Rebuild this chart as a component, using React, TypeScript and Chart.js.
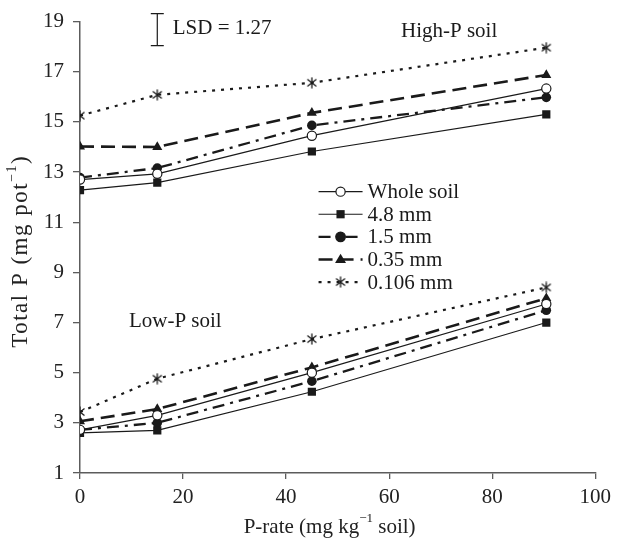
import React, { useEffect, useRef } from 'react';
import { Chart, registerables } from 'chart.js';

Chart.register(...registerables);

// ---------- data ----------
const pRates = [0, 15, 45, 90.5];
const seriesNames = ['Whole soil', '4.8 mm', '1.5 mm', '0.35 mm', '0.106 mm'];

const highWhole = [12.7, 12.93, 14.45, 16.33];
const highMm48 = [12.28, 12.58, 13.82, 15.3];
const highMm15 = [12.78, 13.16, 14.86, 15.98];
const highMm035 = [14.02, 14.0, 15.36, 16.87];
const highMm0106 = [15.25, 16.08, 16.56, 17.96];

const lowWhole = [2.72, 3.3, 5.0, 7.74];
const lowMm48 = [2.6, 2.7, 4.24, 7.0];
const lowMm15 = [2.72, 3.0, 4.66, 7.49];
const lowMm035 = [3.06, 3.55, 5.21, 7.97];
const lowMm0106 = [3.43, 4.76, 6.34, 8.4];

const xTicks = [0, 20, 40, 60, 80, 100];
const yTicks = [1, 3, 5, 7, 9, 11, 13, 15, 17, 19];

const lsdValue = 1.27;
const lsdCenter = 18.68;
const lsdRate = 15;

const highLabel = 'High-P soil';
const lowLabel = 'Low-P soil';
const xTitle = ['P-rate (mg kg', '\u22121', ' soil)'];
const yTitle = ['Total P (mg pot', '\u22121', ')'];

// ---------- styling ----------
const FONT = "'Liberation Serif', 'Times New Roman', serif";
const INK = '#1a1a1a';
const AXIS = '#5c5c5c';

function makeStarCanvas(): HTMLCanvasElement {
  const c = document.createElement('canvas');
  c.width = 12;
  c.height = 12;
  const g = c.getContext('2d')!;
  g.strokeStyle = INK;
  g.lineWidth = 1.3;
  g.beginPath();
  g.moveTo(1.5, 2.5); g.lineTo(10.5, 9.5);
  g.moveTo(10.5, 2.5); g.lineTo(1.5, 9.5);
  g.moveTo(6, 0.5); g.lineTo(6, 11.5);
  g.stroke();
  return c;
}

type Sty = { point: any; fill: string; radius: number; width: number; dash: number[] };

function drawMarker(ctx: CanvasRenderingContext2D, s: Sty, x: number, y: number) {
  ctx.save();
  ctx.setLineDash([]);
  ctx.fillStyle = s.fill;
  ctx.strokeStyle = INK;
  ctx.lineWidth = 1.2;
  if (s.point === 'circle') {
    ctx.beginPath();
    ctx.arc(x, y, s.radius, 0, Math.PI * 2);
    ctx.fill();
    ctx.stroke();
  } else if (s.point === 'rect') {
    const h = s.radius * Math.SQRT1_2;
    ctx.fillRect(x - h, y - h, 2 * h, 2 * h);
  } else if (s.point === 'triangle') {
    const r = s.radius;
    ctx.beginPath();
    ctx.moveTo(x, y - r);
    ctx.lineTo(x + r * 0.95, y + r * 0.6);
    ctx.lineTo(x - r * 0.95, y + r * 0.6);
    ctx.closePath();
    ctx.fill();
  } else {
    ctx.drawImage(s.point, x - 6, y - 6);
  }
  ctx.restore();
}

function drawRich(ctx: CanvasRenderingContext2D, parts: string[], cx: number, cy: number, size: number, spacing: number) {
  const main = `${size}px ${FONT}`;
  const sup = `${Math.round(size * 0.62)}px ${FONT}`;
  (ctx as any).letterSpacing = `${spacing}px`;
  const widths = parts.map((p, i) => {
    ctx.font = i === 1 ? sup : main;
    return ctx.measureText(p).width;
  });
  const total = widths.reduce((a, b) => a + b, 0);
  let x = cx - total / 2;
  parts.forEach((p, i) => {
    ctx.font = i === 1 ? sup : main;
    ctx.fillText(p, x, i === 1 ? cy - size * 0.38 : cy);
    x += widths[i];
  });
  (ctx as any).letterSpacing = '0px';
}

export default function App() {
  const ref = useRef<HTMLCanvasElement>(null);

  useEffect(() => {
    const star = makeStarCanvas();
    const styles: Sty[] = [
      { point: 'circle', fill: '#ffffff', radius: 4.6, width: 1.2, dash: [] },
      { point: 'rect', fill: INK, radius: 5.8, width: 1.2, dash: [] },
      { point: 'circle', fill: INK, radius: 4.8, width: 2.3, dash: [12, 6, 3, 6] },
      { point: 'triangle', fill: INK, radius: 5.8, width: 2.6, dash: [14, 7] },
      { point: star, fill: INK, radius: 6, width: 2.2, dash: [3, 6] },
    ];
    const highs = [highWhole, highMm48, highMm15, highMm035, highMm0106];
    const lows = [lowWhole, lowMm48, lowMm15, lowMm035, lowMm0106];

    const mk = (vals: number[], i: number, group: string) => ({
      label: `${seriesNames[i]} (${group})`,
      data: pRates.map((x, k) => ({ x, y: vals[k] })),
      borderColor: INK,
      borderWidth: styles[i].width,
      borderDash: styles[i].dash,
      pointStyle: styles[i].point,
      pointRadius: styles[i].radius,
      pointBackgroundColor: styles[i].fill,
      pointBorderColor: INK,
      pointBorderWidth: i === 0 ? 1.2 : 0,
      tension: 0,
      fill: false,
      showLine: true,
    });

    const datasets: any[] = [];
    highs.forEach((v, i) => datasets.push(mk(v, i, 'High-P')));
    lows.forEach((v, i) => datasets.push(mk(v, i, 'Low-P')));

    const decor = {
      id: 'decor',
      afterDraw(chart: any) {
        const { ctx, chartArea } = chart;
        const xs = chart.scales.x;
        const ys = chart.scales.y;
        ctx.save();
        ctx.fillStyle = INK;
        ctx.strokeStyle = INK;
        ctx.textBaseline = 'middle';
        ctx.textAlign = 'left';

        // group labels
        ctx.font = `21px ${FONT}`;
        ctx.fillText(highLabel, xs.getPixelForValue(62.3), ys.getPixelForValue(18.6));
        ctx.fillText(lowLabel, xs.getPixelForValue(9.5), ys.getPixelForValue(7.05));

        // LSD bar
        const bx = xs.getPixelForValue(lsdRate);
        const bt = ys.getPixelForValue(lsdCenter + lsdValue / 2);
        const bb = ys.getPixelForValue(lsdCenter - lsdValue / 2);
        ctx.lineWidth = 1.2;
        ctx.setLineDash([]);
        ctx.beginPath();
        ctx.moveTo(bx, bt); ctx.lineTo(bx, bb);
        ctx.moveTo(bx - 6.5, bt); ctx.lineTo(bx + 6.5, bt);
        ctx.moveTo(bx - 6.5, bb); ctx.lineTo(bx + 6.5, bb);
        ctx.stroke();
        ctx.fillText(`LSD = ${lsdValue.toFixed(2)}`, bx + 15.5, (bt + bb) / 2 - 1);

        // legend
        const lx = xs.getPixelForValue(46.3);
        const ly0 = ys.getPixelForValue(12.22);
        const rowH = 22.6;
        seriesNames.forEach((name, i) => {
          const s = styles[i];
          const ry = ly0 + i * rowH;
          ctx.save();
          ctx.lineWidth = s.width;
          ctx.setLineDash(s.dash);
          ctx.beginPath();
          ctx.moveTo(lx, ry);
          ctx.lineTo(lx + 44, ry);
          ctx.stroke();
          ctx.restore();
          drawMarker(ctx, s, lx + 22, ry);
          ctx.font = `21px ${FONT}`;
          ctx.fillStyle = INK;
          ctx.fillText(name, lx + 49, ry + 1);
        });

        // axis titles
        ctx.fillStyle = '#222';
        ctx.textBaseline = 'middle';
        ctx.textAlign = 'left';
        drawRich(ctx, xTitle, (chartArea.left + chartArea.right) / 2 - 8, 527, 21, 0);
        ctx.save();
        ctx.translate(21, (chartArea.top + chartArea.bottom) / 2 + 4);
        ctx.rotate(-Math.PI / 2);
        drawRich(ctx, yTitle, 0, 0, 23, 1.5);
        ctx.restore();

        ctx.restore();
      },
    };

    const chart = new Chart(ref.current!, {
      type: 'line',
      data: { datasets },
      plugins: [decor],
      options: {
        responsive: false,
        animation: false,
        events: [],
        layout: { padding: { top: 16, right: 18, left: 0, bottom: 0 } },
        plugins: {
          legend: { display: false },
          title: { display: false },
          tooltip: { enabled: false },
        },
        scales: {
          x: {
            type: 'linear',
            min: 0,
            max: 100,
            afterBuildTicks: (s: any) => { s.ticks = xTicks.map((v) => ({ value: v })); },
            afterFit: (s: any) => { s.height = 66; },
            ticks: { color: '#222', font: { family: FONT, size: 21 }, padding: 6, maxRotation: 0 },
            grid: { drawOnChartArea: false, drawTicks: true, tickLength: 6, color: AXIS, lineWidth: 1.3 },
            border: { display: true, color: AXIS, width: 1.5 },
          },
          y: {
            type: 'linear',
            min: 1,
            max: 19,
            afterBuildTicks: (s: any) => { s.ticks = yTicks.map((v) => ({ value: v })); },
            afterFit: (s: any) => { s.width = 80; },
            ticks: { color: '#222', font: { family: FONT, size: 21 }, padding: 9 },
            grid: { drawOnChartArea: false, drawTicks: true, tickLength: 7, color: AXIS, lineWidth: 1.3 },
            border: { display: true, color: AXIS, width: 1.5 },
          },
        },
      },
    } as any);

    return () => chart.destroy();
  }, []);

  return (
    <div style={{ position: 'absolute', left: 0, top: 0, width: 617, height: 539, background: '#fff' }}>
      <canvas ref={ref} width={617} height={539} style={{ width: 617, height: 539, display: 'block' }} />
    </div>
  );
}
